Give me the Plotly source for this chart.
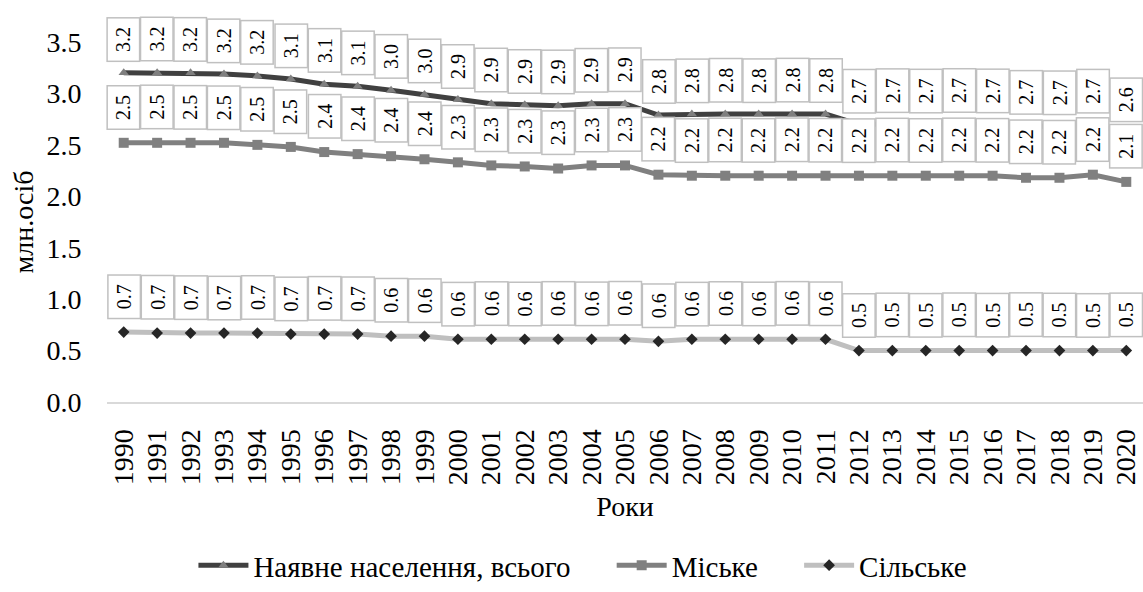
import plotly.graph_objects as go

# Population of the region, million persons
years = list(range(1990, 2021))

total = [3.20, 3.20, 3.20, 3.19, 3.17, 3.14, 3.09, 3.07, 3.03, 2.99,
         2.94, 2.90, 2.89, 2.88, 2.90, 2.90, 2.79, 2.80, 2.80, 2.80,
         2.80, 2.80, 2.70, 2.70, 2.70, 2.70, 2.70, 2.68, 2.68, 2.70,
         2.61]

urban = [2.52, 2.52, 2.52, 2.52, 2.50, 2.48, 2.43, 2.41, 2.39, 2.36,
         2.33, 2.30, 2.29, 2.27, 2.30, 2.30, 2.21, 2.20, 2.20, 2.20,
         2.20, 2.20, 2.20, 2.20, 2.20, 2.20, 2.20, 2.18, 2.18, 2.21,
         2.14]

rural = [0.68, 0.67, 0.67, 0.67, 0.67, 0.66, 0.66, 0.66, 0.64, 0.64,
         0.61, 0.61, 0.61, 0.61, 0.61, 0.61, 0.59, 0.61, 0.61, 0.61,
         0.61, 0.61, 0.50, 0.50, 0.50, 0.50, 0.50, 0.50, 0.50, 0.50,
         0.50]

series_names = ["Наявне населення, всього", "Міське", "Сільське"]
y_ticks = [0.0, 0.5, 1.0, 1.5, 2.0, 2.5, 3.0, 3.5]

FONT = "Liberation Serif"
GAP = "\u00a0" * 5  # spacing between legend entries

fig = go.Figure()

styles = [
    (total, dict(color="#404040", width=5), dict(symbol="triangle-up", size=9, color="#7f7f7f")),
    (urban, dict(color="#808080", width=5), dict(symbol="square", size=10, color="#808080")),
    (rural, dict(color="#bfbfbf", width=5), dict(symbol="diamond", size=9, color="#262626")),
]

for i, (name, (vals, line, marker)) in enumerate(zip(series_names, styles)):
    label = name + (GAP if i < len(series_names) - 1 else "")
    fig.add_trace(go.Scatter(
        x=years, y=vals, name=label, mode="lines+markers",
        line=line, marker=marker, cliponaxis=False,
    ))

# Boxed, vertical value labels above each point
shifts = [11, 13, 13]
for vals, shift in zip([total, urban, rural], shifts):
    for x, v in zip(years, vals):
        fig.add_annotation(
            x=x, y=v, xref="x", yref="y", text=f"{v:.1f}", textangle=-90,
            showarrow=False, yanchor="bottom", xanchor="center", yshift=shift,
            font=dict(family=FONT, size=20, color="#000000"),
            bgcolor="#ffffff", bordercolor="#c0c0c0", borderwidth=1.5,
            borderpad=2, width=38, height=27,
        )

fig.update_layout(
    width=1143, height=592,
    margin=dict(l=107, r=0, t=42, b=190),
    paper_bgcolor="#ffffff", plot_bgcolor="#ffffff",
    font=dict(family=FONT, size=28, color="#000000"),
    showlegend=True,
    legend=dict(
        orientation="h", xref="container", yref="container",
        x=0.51, y=0.045, xanchor="center", yanchor="middle",
        font=dict(family=FONT, size=29), itemwidth=50,
        traceorder="normal",
    ),
)

fig.update_xaxes(
    range=[1989.5, 2020.5], tickmode="array", tickvals=years,
    ticktext=[str(y) for y in years],
    tickangle=-90, ticks="outside", ticklen=14, tickcolor="rgba(0,0,0,0)",
    showline=True, linecolor="#d9d9d9", linewidth=2,
    showgrid=False, zeroline=False,
    tickfont=dict(family=FONT, size=28),
    title=dict(text="Роки", font=dict(family=FONT, size=28), standoff=12),
)

fig.update_yaxes(
    range=[0, 3.5], tickvals=y_ticks, ticktext=[f"{t:.1f}" for t in y_ticks],
    ticks="outside", ticklen=19, tickcolor="rgba(0,0,0,0)",
    showline=False, showgrid=False, zeroline=False,
    tickfont=dict(family=FONT, size=28),
    title=dict(text="млн.осіб", font=dict(family=FONT, size=28), standoff=4),
)

fig.write_html("out.html")
